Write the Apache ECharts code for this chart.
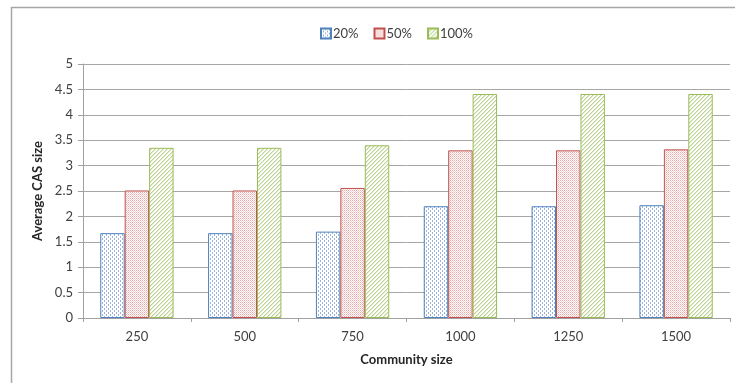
<!DOCTYPE html>
<html>
<head>
<meta charset="utf-8">
<script src="https://cdn.jsdelivr.net/npm/echarts@6/dist/echarts.min.js"></script>
<style>
  html, body { margin: 0; padding: 0; background: #fff; }
  #chart { width: 735px; height: 383px; }
</style>
</head>
<body>
<div id="chart"></div>
<script>
// Average CAS size by community size, for three participation levels
const categories = ['250', '500', '750', '1000', '1250', '1500'];
const seriesNames = ['20%', '50%', '100%'];
const values20 = [1.67, 1.67, 1.70, 2.20, 2.20, 2.22];
const values50 = [2.51, 2.51, 2.56, 3.30, 3.30, 3.32];
const values100 = [3.35, 3.35, 3.40, 4.41, 4.41, 4.41];
const yTicks = { min: 0, max: 5, step: 0.5 };

// Small repeating tiles used as bar fills
function tile(size, draw) {
  const c = document.createElement('canvas');
  c.width = size; c.height = size;
  const g = c.getContext('2d');
  g.fillStyle = '#ffffff';
  g.fillRect(0, 0, size, size);
  draw(g);
  return { image: c, repeat: 'repeat' };
}
// dotted fill
const dotFill = tile(4, g => {
  g.fillStyle = '#9bb3d8';
  g.fillRect(0, 0, 1, 2);
  g.fillRect(2, 2, 1, 2);
});
// fine pink texture
const fineFill = tile(2, g => {
  g.fillStyle = '#eba7a6';
  g.fillRect(0, 0, 1, 1);
  g.fillStyle = '#f4cfce';
  g.fillRect(1, 1, 1, 1);
});
// diagonal hatch
const hatchFill = tile(4, g => {
  g.fillStyle = '#bfd494';
  for (let i = 0; i < 4; i++) g.fillRect(3 - i, i, 1, 1);
  g.fillStyle = '#e0ebcb';
  for (let i = 0; i < 4; i++) g.fillRect((4 - i) % 4, i, 1, 1);
});

const fills = [dotFill, fineFill, hatchFill];
const edges = ['#4f81bd', '#c0504d', '#9bbb59'];
const dataSets = [values20, values50, values100];

const font = 'Lato, "Liberation Sans", sans-serif';
const chart = echarts.init(document.getElementById('chart'), null, { renderer: 'canvas' });

chart.setOption({
  animation: false,
  backgroundColor: '#ffffff',
  textStyle: { fontFamily: font },
  graphic: [{
    type: 'rect',
    shape: { x: 11.5, y: 7.5, width: 800, height: 500 },
    style: { fill: 'none', stroke: '#a6a6a6', lineWidth: 1.5 },
    silent: true
  }],
  legend: {
    data: seriesNames,
    left: 315,
    top: 22,
    itemWidth: 10,
    itemHeight: 10,
    itemGap: 15,
    icon: 'rect',
    textStyle: { fontFamily: font, fontSize: 13, color: '#404040', padding: [0, 0, 0, -3] }
  },
  grid: { left: 83, right: 5, top: 64, bottom: 65, containLabel: false },
  xAxis: {
    type: 'category',
    data: categories,
    name: 'Community size',
    nameLocation: 'middle',
    nameGap: 35,
    nameTextStyle: { fontFamily: font, fontSize: 13, fontWeight: 'bold', color: '#262626' },
    axisLine: { lineStyle: { color: '#a0a0a0', width: 1 } },
    axisTick: { show: true, length: 4, alignWithLabel: false, lineStyle: { color: '#a0a0a0' } },
    axisLabel: { fontFamily: font, fontSize: 13, color: '#404040', margin: 12 }
  },
  yAxis: {
    type: 'value',
    min: yTicks.min,
    max: yTicks.max,
    interval: yTicks.step,
    name: 'Average CAS size',
    nameLocation: 'middle',
    nameGap: 32,
    nameTextStyle: { fontFamily: font, fontSize: 13, fontWeight: 'bold', color: '#262626' },
    axisLine: { show: true, lineStyle: { color: '#a0a0a0', width: 1 } },
    axisTick: { show: true, length: 5, lineStyle: { color: '#a0a0a0' } },
    axisLabel: { fontFamily: font, fontSize: 13, color: '#404040', margin: 10 },
    splitLine: { show: true, lineStyle: { color: '#a6a6a6', width: 1 } }
  },
  series: seriesNames.map((name, i) => ({
    name: name,
    type: 'bar',
    data: dataSets[i],
    barGap: '0%',
    barCategoryGap: '32%',
    itemStyle: { color: fills[i], borderColor: edges[i], borderWidth: 1 }
  }))
});
</script>
</body>
</html>
